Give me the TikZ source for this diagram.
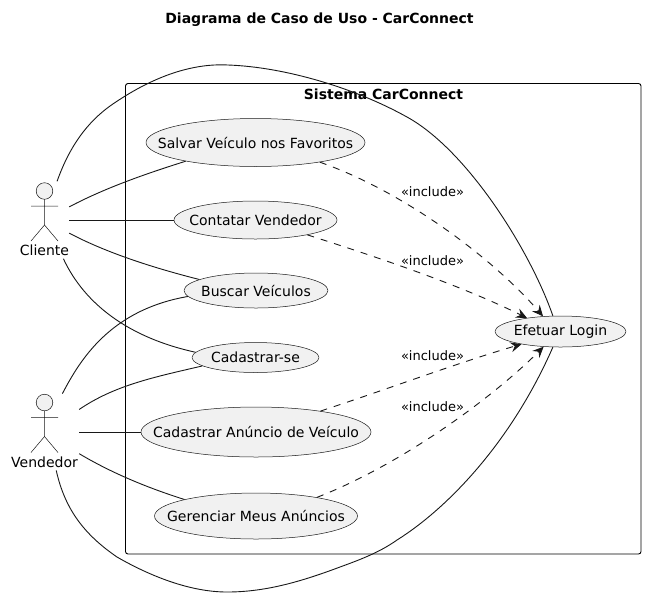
\documentclass[tikz,border=0pt]{standalone}
\usepackage{fontspec}
\setmainfont{DejaVu Sans}
\usepackage{xcolor}
\usetikzlibrary{arrows.meta, shapes.geometric}

\definecolor{ucfill}{HTML}{F1F1F1}
\definecolor{ucline}{HTML}{181818}

\newcommand{\uctext}[1]{\makebox[0pt]{#1}}

\tikzset{
    usecase/.style={ellipse, draw=ucline, fill=ucfill, line width=0.5pt, inner sep=0pt,
        font=\fontsize{14}{16}\selectfont},
    actorbox/.style={rectangle, inner sep=0pt},
    actorname/.style={inner sep=0pt, font=\fontsize{14}{16}\selectfont},
    inclabel/.style={inner sep=0pt, font=\fontsize{13}{15}\selectfont},
    assoc/.style={draw=ucline, line width=0.9pt},
    incl/.style={draw=ucline, line width=0.9pt, dash pattern=on 7pt off 7pt,
        -{Stealth[length=11pt, width=10pt, inset=4pt]}},
    stickfig/.pic={
        \draw[ucline, fill=ucfill, line width=0.5pt] (0,0) circle[radius=8.3];
        \draw[ucline, line width=0.5pt] (0,8.3) -- (0,34) (-13.5,15) -- (13.5,15)
            (-13.5,50) -- (0,34) -- (13.5,50);
    },
}

\begin{document}
\begin{tikzpicture}[x=1pt, y=-1pt, line cap=butt, line join=round]
    \useasboundingbox (0,0) rectangle (668,606);

    % title and system frame
    \node[inner sep=0pt, font=\fontsize{14}{16}\selectfont\bfseries] (titulo) at (319.5,20) {Diagrama de Caso de Uso - CarConnect};
    \draw[black, line width=0.9pt, rounded corners=2.5pt] (125.5,83.5) rectangle (641,554);
    \node[inner sep=0pt, font=\fontsize{14}{16}\selectfont\bfseries] (sistema) at (383.5,94) {Sistema CarConnect};

    % actors
    \pic at (44.5,191) {stickfig};
    \pic at (44.5,402.5) {stickfig};
    \node[actorname] (clienteNome) at (44.5,250) {Cliente};
    \node[actorname] (vendedorNome) at (44.5,462) {Vendedor};
    \node[actorbox, minimum width=49pt, minimum height=77pt] (cliente) at (44.5,220) {};
    \node[actorbox, minimum width=69pt, minimum height=76.4pt] (vendedor) at (44.5,432) {};

    % use cases
    \node[usecase, minimum width=219pt, minimum height=48pt] (salvar) at (255.5,142.5) {\uctext{Salvar Veículo nos Favoritos}};
    \node[usecase, minimum width=163pt, minimum height=38pt] (contatar) at (255.5,220) {\uctext{Contatar Vendedor}};
    \node[usecase, minimum width=144pt, minimum height=35pt] (buscar) at (256,290.5) {\uctext{Buscar Veículos}};
    \node[usecase, minimum width=127pt, minimum height=30pt] (cadastrar) at (255.5,357.5) {\uctext{Cadastrar-se}};
    \node[usecase, minimum width=230pt, minimum height=50pt] (anuncio) at (256,432) {\uctext{Cadastrar Anúncio de Veículo}};
    \node[usecase, minimum width=203pt, minimum height=46pt] (gerenciar) at (256,516) {\uctext{Gerenciar Meus Anúncios}};
    \node[usecase, minimum width=131pt, minimum height=31pt] (login) at (560.5,331.5) {\uctext{Efetuar Login}};

    % cliente associations
    \draw[assoc] (cliente.72) .. controls (70,145) and (88,122) .. (110,106)
        .. controls (150,78) and (190,63) .. (228,65)
        .. controls (285,67) and (355,88) .. (407,117)
        .. controls (467,150) and (530,250) .. (login.116);
    \draw[assoc] (cliente.28) .. controls (105,188) and (145,174) .. (salvar.195);
    \draw[assoc] (cliente.east) -- (contatar.west);
    \draw[assoc] (cliente.-28) .. controls (105,252) and (150,267) .. (buscar.169);
    \draw[assoc] (cliente.-64) .. controls (85,305) and (130,338) .. (cadastrar.175);

    % vendedor associations
    \draw[assoc] (vendedor.65) .. controls (80,360) and (110,310) .. (buscar.185);
    \draw[assoc] (vendedor.33) .. controls (115,385) and (155,377) .. (cadastrar.189);
    \draw[assoc] (vendedor.east) -- (anuncio.west);
    \draw[assoc] (vendedor.-32) .. controls (110,472) and (145,487) .. (gerenciar.167);
    \draw[assoc] (vendedor.-73) .. controls (65,510) and (85,535) .. (117,557)
        .. controls (150,576) and (190,592) .. (227,592)
        .. controls (265,592) and (300,582) .. (340,567)
        .. controls (362,559) and (380,552) .. (397,540)
        .. controls (445,510) and (510,445) .. (login.-116);

    % include dependencies
    \draw[incl] (salvar.-17) .. controls (400,190) and (490,255) .. (login.139);
    \draw[incl] (contatar.-16) .. controls (380,258) and (460,285) .. (login.158);
    \draw[incl] (anuncio.18) .. controls (385,390) and (460,362) .. (login.198);
    \draw[incl] (gerenciar.17) .. controls (400,465) and (490,400) .. (login.222);

    \node[inclabel] (incA) at (432.5,192) {«include»};
    \node[inclabel] (incB) at (432.5,261) {«include»};
    \node[inclabel] (incC) at (432.5,356) {«include»};
    \node[inclabel] (incD) at (432.5,407) {«include»};
\end{tikzpicture}
\end{document}
